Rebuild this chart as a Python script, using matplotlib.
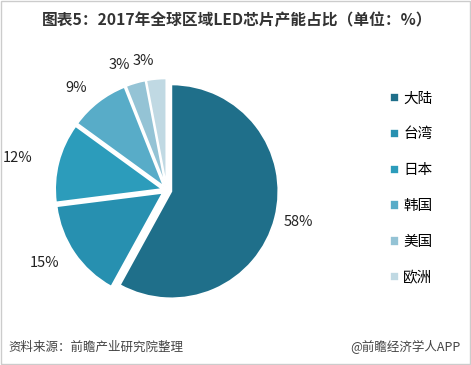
import matplotlib.pyplot as plt

plt.rcParams['font.family'] = ['Noto Sans CJK SC', 'DejaVu Sans']

regions = ['大陆', '台湾', '日本', '韩国', '美国', '欧洲']
shares = [58, 15, 12, 9, 3, 3]
colors = ['#1f6f8a', '#2790b0', '#2c9cbb', '#58acc8', '#94c3d5', '#c0d9e3']

fig = plt.figure(figsize=(4.71, 3.65), dpi=100)

# light frame around the picture
fig.patches.append(plt.Rectangle((0.002, 0.003), 0.995, 0.994, transform=fig.transFigure,
                                 fill=False, edgecolor='#cccccc', linewidth=1))

fig.text(0.503, 0.945, '图表5：2017年全球区域LED芯片产能占比（单位：%）',
         ha='center', va='center', fontsize=11.3, fontweight='bold', color='#333333')

ax = fig.add_axes([0.093, 0.142, 0.522, 0.674])
wedges, texts = ax.pie(shares, colors=colors, startangle=90, counterclock=False,
                       explode=[0.045] * len(shares), labels=[f'{v}%' for v in shares],
                       labeldistance=1.17,
                       wedgeprops=dict(edgecolor='white', linewidth=1.2),
                       textprops=dict(fontsize=10.5, color='#222222'))
texts[0].set_x(texts[0].get_position()[0] - 0.08)
texts[2].set_x(texts[2].get_position()[0] - 0.08)
ax.set_xlim(-1.15, 1.15)
ax.set_ylim(-1.15, 1.15)
ax.set_aspect('equal')

leg = fig.legend(wedges, regions, loc='upper left', bbox_to_anchor=(0.8, 0.785),
                 frameon=False, fontsize=10.5, handlelength=0.6, handleheight=0.6,
                 handletextpad=0.3, labelspacing=1.5)

fig.text(0.018, 0.048, '资料来源：前瞻产业研究院整理', ha='left', va='center',
         fontsize=9, style='italic', color='#444444')
fig.text(0.978, 0.048, '@前瞻经济学人APP', ha='right', va='center',
         fontsize=9, color='#444444')

fig.savefig('out.png', dpi=100)
